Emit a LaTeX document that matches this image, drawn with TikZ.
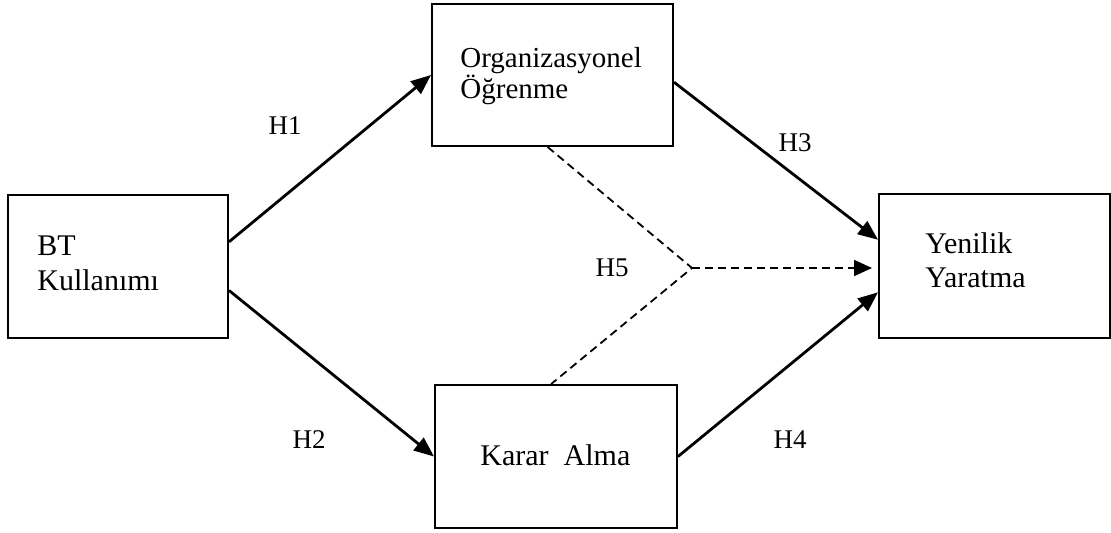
\documentclass[tikz,border=0pt]{standalone}
\usepackage{fontspec}
\setmainfont{Liberation Serif}
\usetikzlibrary{arrows.meta,calc}
\begin{document}
\begin{tikzpicture}[x=0.5pt,y=-0.5pt,
  box/.style={draw,line width=1pt,inner sep=0pt},
  txt/.style={font=\fontsize{15}{17.5}\selectfont,align=left,inner sep=0pt,anchor=west},
  hlab/.style={font=\fontsize{13.5}{15}\selectfont,inner sep=0pt},
  conn/.style={line width=1.4pt,-{Triangle[length=10pt,width=8pt]}},
  dconn/.style={line width=0.9pt,dash pattern=on 4pt off 2.5pt}]
\useasboundingbox (0,0) rectangle (1111,532);
% boxes
\node[box,minimum width=110pt,minimum height=71.5pt] (bt) at (118,266.5) {};
\node[box,minimum width=120.5pt,minimum height=71pt] (org) at (552.5,75) {};
\node[box,minimum width=121pt,minimum height=71.5pt] (karar) at (556,456.5) {};
\node[box,minimum width=115.5pt,minimum height=72pt] (yen) at (994.5,266) {};
% texts
\node[txt] (btt) at (37,263.5) {BT\\Kullanımı};
\node[txt,font=\fontsize{14.5}{15.5}\selectfont] (orgt) at (460,76) {Organizasyonel\\Öğrenme};
\node[txt,anchor=base west] (karart) at (480,465) {Karar\ \ Alma};
\node[txt,font=\fontsize{15}{17}\selectfont] (yent) at (925,260) {Yenilik\\Yaratma};
% hypothesis labels
\node[hlab] (h1) at (285,126) {H1};
\node[hlab] (h2) at (309,440) {H2};
\node[hlab] (h3) at (795,143) {H3};
\node[hlab] (h4) at (790,440) {H4};
\node[hlab] (h5) at (612,268) {H5};
% connectors
\draw[conn] ($(bt.north east)!0.33!(bt.south east)$) -- (org.west);
\draw[conn] ($(bt.north east)!0.665!(bt.south east)$) -- (karar.west);
\draw[conn] ($(org.north east)!0.55!(org.south east)$) -- ($(yen.north west)!0.32!(yen.south west)$);
\draw[conn] (karar.east) -- ($(yen.north west)!0.68!(yen.south west)$);
% moderating (dashed)
\coordinate (j) at (692,268);
\draw[dconn] ($(org.south west)!0.48!(org.south east)$) -- (j) -- ($(karar.north west)!0.48!(karar.north east)$);
\draw[dconn,-{Triangle[length=9pt,width=8pt]},shorten >=3pt] (j) -- (j -| yen.west);
\end{tikzpicture}
\end{document}
